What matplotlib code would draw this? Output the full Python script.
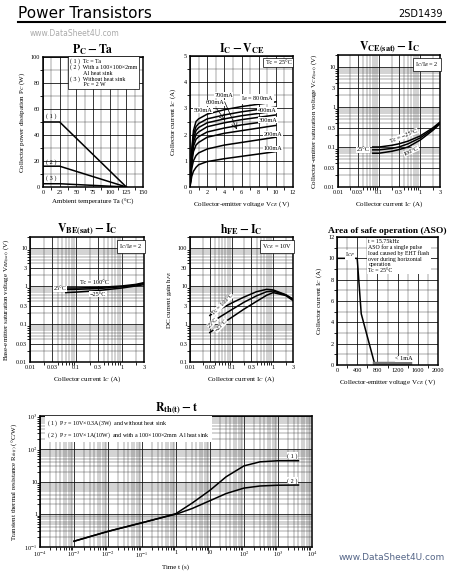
import matplotlib
matplotlib.use("Agg")
import matplotlib.pyplot as plt
from matplotlib.lines import Line2D
from matplotlib.ticker import NullFormatter, LogLocator, MultipleLocator

# ---- data ----
# Pc - Ta
ta = [0, 25, 125]
pc_1 = [50, 50, 0]
pc_2 = [16, 16, 0]
pc_3 = [2.5, 2.5, 0]

# Ic - Vce
vce = [0, 0.1, 0.2, 0.4, 0.7, 1, 2, 4, 6, 8, 10]
ic_100 = [0, 0.2, 0.4, 0.6, 0.75, 0.85, 0.97, 1.08, 1.17, 1.26, 1.35]
ic_200 = [0, 0.35, 0.7, 1.0, 1.2, 1.3, 1.45, 1.6, 1.7, 1.8, 1.9]
ic_300 = [0, 0.45, 0.9, 1.35, 1.6, 1.7, 1.9, 2.05, 2.15, 2.25, 2.35]
ic_400 = [0, 0.5, 1.0, 1.55, 1.82, 1.92, 2.1, 2.25, 2.37, 2.46, 2.55]
ic_500 = [0, 0.55, 1.1, 1.7, 2.0, 2.1, 2.3, 2.45, 2.57, 2.66, 2.75]
ic_600 = [0, 0.6, 1.2, 1.85, 2.15, 2.27, 2.45, 2.6, 2.72, 2.81, 2.9]
ic_700 = [0, 0.65, 1.3, 2.0, 2.3, 2.42, 2.6, 2.75, 2.87, 2.96, 3.05]
ic_800 = [0, 0.7, 1.4, 2.15, 2.5, 2.6, 2.78, 2.95, 3.07, 3.16, 3.25]

# Vce(sat) - Ic
ic_sat = [0.07, 0.1, 0.2, 0.3, 0.5, 1, 2, 3]
vces_m25 = [0.1, 0.1, 0.11, 0.12, 0.14, 0.19, 0.3, 0.42]
vces_25 = [0.085, 0.085, 0.092, 0.1, 0.12, 0.17, 0.28, 0.4]
vces_100 = [0.07, 0.07, 0.078, 0.086, 0.1, 0.15, 0.26, 0.38]

# Vbe(sat) - Ic
ic_vbe = [0.06, 0.1, 0.3, 1, 2, 3]
vbe_100 = [0.9, 0.9, 0.93, 1.02, 1.12, 1.25]
vbe_25 = [0.82, 0.83, 0.87, 0.97, 1.08, 1.18]
vbe_m25 = [0.68, 0.7, 0.77, 0.9, 1.02, 1.1]

# hFE - Ic
ic_hfe = [0.03, 0.05, 0.1, 0.2, 0.4, 0.7, 1, 2, 3]
hfe_100 = [1.7, 2.4, 3.6, 5.2, 7.2, 8.3, 8.0, 6.0, 4.6]
hfe_25 = [1.0, 1.5, 2.4, 3.8, 5.6, 7.2, 7.5, 5.9, 4.5]
hfe_m25 = [0.6, 0.9, 1.5, 2.5, 4.0, 5.8, 6.8, 5.7, 4.2]

# ASO
aso_v = [0, 400, 480, 740]
aso_i = [10, 10, 4.8, 0.2]
leak_v = [740, 1450]
leak_i = [0.2, 0.2]

# Rth - t
t_s = [1e-3, 1e-2, 1e-1, 0.5, 1, 3, 10, 30, 100, 300, 1000, 4000]
rth_1 = [0.15, 0.3, 0.55, 0.85, 1.05, 2.2, 5.4, 14, 30, 40, 43, 43]
rth_2 = [0.15, 0.3, 0.55, 0.85, 1.0, 1.5, 2.6, 4.3, 6.3, 7.3, 7.7, 7.8]

W, H = 458, 571
plt.rcParams['font.family'] = ['Liberation Serif', 'DejaVu Serif']
plt.rcParams['mathtext.fontset'] = 'stix'
fig = plt.figure(figsize=(W / 100, H / 100), dpi=100)

def ax_px(l, t, r, b):
    return fig.add_axes([l / W, (H - b) / H, (r - l) / W, (b - t) / H])

def style(ax, title, xlabel, ylabel, tsize=8.5):
    for s in ax.spines.values():
        s.set_linewidth(1.1)
    ax.tick_params(labelsize=4.5, length=0, pad=2)
    ax.grid(True, which='major', color='black', lw=0.55)
    ax.grid(True, which='minor', color='#333333', lw=0.3)
    ax.set_axisbelow(True)
    ax.set_title(title, fontsize=tsize, fontweight='bold', pad=3)
    ax.set_xlabel(xlabel, fontsize=5, labelpad=3)
    ax.set_ylabel(ylabel, fontsize=5, labelpad=3)

curve = dict(color='black', lw=1.1)
lab_bbox = dict(facecolor='white', edgecolor='none', pad=0.3)

# header
fig.text(18 / W, 1 - 13 / H, "Power Transistors", fontsize=11, family='DejaVu Sans',
         va='center', ha='left')
fig.text(443 / W, 1 - 14 / H, "2SD1439", fontsize=7, family='DejaVu Sans', va='center', ha='right')
fig.add_artist(Line2D([18 / W, 445 / W], [1 - 22 / H, 1 - 22 / H], color='black', lw=1.5))
fig.text(30 / W, 1 - 33 / H, "www.DataSheet4U.com", fontsize=5.5, family='DejaVu Sans',
         color='#aaaaaa', va='center')
fig.text(445 / W, 1 - 557 / H, "www.DataSheet4U.com", fontsize=6.5, family='DejaVu Sans',
         color='#556688', va='center', ha='right')

# ---- Pc - Ta ----
ax = ax_px(43, 57, 143, 187)
ax.plot(ta, pc_1, **curve)
ax.plot(ta, pc_2, **curve)
ax.plot(ta, pc_3, **curve)
ax.set_xlim(0, 150)
ax.set_ylim(0, 100)
ax.set_xticks([0, 25, 50, 75, 100, 125, 150])
ax.set_yticks([0, 20, 40, 60, 80, 100])
ax.xaxis.set_minor_locator(MultipleLocator(12.5))
ax.yaxis.set_minor_locator(MultipleLocator(10))
style(ax, r"$\mathbf{P_C - Ta}$", "Ambient temperature Ta (°C)",
      r"Collector power dissipation P$_C$ (W)")
ax.text(5, 53, "( 1 )", fontsize=4.5)
ax.text(5, 18, "( 2 )", fontsize=4.5)
ax.text(5, 6, "( 3 )", fontsize=4.5)
ax.text(40, 99, "( 1 )  Tc = Ta\n( 2 )  With a 100×100×2mm\n         Al heat sink\n"
        "( 3 )  Without heat sink\n         Pc = 2 W", fontsize=4.3, va='top', linespacing=1.1,
        bbox=dict(facecolor='white', edgecolor='black', lw=0.5, pad=1.5))

# ---- Ic - Vce ----
ax = ax_px(190, 56, 293, 187)
for c in [ic_100, ic_200, ic_300, ic_400, ic_500, ic_600, ic_700, ic_800]:
    ax.plot(vce, c, **curve)
ax.set_xlim(0, 12)
ax.set_ylim(0, 5)
ax.set_xticks(range(0, 13, 2))
ax.set_yticks(range(0, 6))
ax.xaxis.set_minor_locator(MultipleLocator(1))
ax.yaxis.set_minor_locator(MultipleLocator(0.5))
style(ax, r"$\mathbf{I_C - V_{CE}}$", r"Collector-emitter voltage V$_{CE}$ (V)",
      r"Collector current I$_C$ (A)")
ax.text(11.8, 4.85, "Tc = 25°C", fontsize=4.5, ha='right', va='top',
        bbox=dict(facecolor='white', edgecolor='black', lw=0.5, pad=1.5))
lab = dict(fontsize=4.5, bbox=lab_bbox)
ax.text(3.9, 3.45, "700mA", ha='center', **lab)
ax.text(7.8, 3.3, r"I$_B$ = 800mA", ha='center', **lab)
ax.text(2.9, 3.15, "600mA", ha='center', **lab)
ax.text(1.5, 2.88, "500mA", ha='center', **lab)
ax.text(9.0, 2.88, "400mA", ha='center', **lab)
ax.text(9.1, 2.5, "300mA", ha='center', **lab)
ax.text(9.7, 1.95, "200mA", ha='center', **lab)
ax.text(9.7, 1.4, "100mA", ha='center', **lab)
ax.annotate("", xy=(5.6, 2.1), xytext=(3.9, 3.35),
            arrowprops=dict(arrowstyle='->', lw=0.5))
ax.annotate("", xy=(4.3, 2.45), xytext=(2.9, 3.08),
            arrowprops=dict(arrowstyle='->', lw=0.5))

# ---- log-log panels ----
logx_ticks = [0.01, 0.03, 0.1, 0.3, 1, 3]
logx_labels = ["0.01", "0.03", "0.1", "0.3", "1", "3"]

def log_axes(ax, yticks, ylabels):
    ax.set_xscale('log')
    ax.set_yscale('log')
    ax.set_xticks(logx_ticks)
    ax.set_xticklabels(logx_labels)
    ax.set_yticks(yticks)
    ax.set_yticklabels(ylabels)
    ax.xaxis.set_minor_locator(LogLocator(subs=range(2, 10)))
    ax.yaxis.set_minor_locator(LogLocator(subs=range(2, 10)))
    ax.xaxis.set_minor_formatter(NullFormatter())
    ax.yaxis.set_minor_formatter(NullFormatter())

# Vce(sat) - Ic
ax = ax_px(338, 55, 440, 187)
ax.plot(ic_sat, vces_m25, **curve)
ax.plot(ic_sat, vces_25, **curve)
ax.plot(ic_sat, vces_100, **curve)
ax.set_xlim(0.01, 3)
ax.set_ylim(0.01, 20)
log_axes(ax, [0.01, 0.03, 0.1, 0.3, 1, 3, 10], ["0.01", "0.03", "0.1", "0.3", "1", "3", "10"])
style(ax, r"$\mathbf{V_{CE(sat)} - I_C}$", r"Collector current I$_C$ (A)",
      r"Collector-emitter saturation voltage V$_{CE(sat)}$ (V)")
ax.text(2.8, 15, r"I$_C$/I$_B$ = 2", fontsize=4.5, ha='right', va='top',
        bbox=dict(facecolor='white', edgecolor='black', lw=0.5, pad=1.5))
ax.text(0.4, 0.19, "Tc = −25°C", fontsize=4.5, rotation=22, ha='center', va='center', bbox=lab_bbox)
ax.text(0.04, 0.085, "25°C", fontsize=4.5, ha='center', va='center', bbox=lab_bbox)
ax.text(0.6, 0.08, "100°C", fontsize=4.5, rotation=25, ha='center', va='center', bbox=lab_bbox)

# Vbe(sat) - Ic
ax = ax_px(30, 237, 144, 362)
ax.plot(ic_vbe, vbe_100, **curve)
ax.plot(ic_vbe, vbe_25, **curve)
ax.plot(ic_vbe, vbe_m25, **curve)
ax.set_xlim(0.01, 3)
ax.set_ylim(0.01, 20)
log_axes(ax, [0.01, 0.03, 0.1, 0.3, 1, 3, 10], ["0.01", "0.03", "0.1", "0.3", "1", "3", "10"])
style(ax, r"$\mathbf{V_{BE(sat)} - I_C}$", r"Collector current I$_C$ (A)",
      r"Base-emitter saturation voltage V$_{BE(sat)}$ (V)")
ax.text(2.8, 15, r"I$_C$/I$_B$ = 2", fontsize=4.5, ha='right', va='top',
        bbox=dict(facecolor='white', edgecolor='black', lw=0.5, pad=1.5))
ax.text(0.25, 1.05, "Tc = 100°C", fontsize=4.5, ha='center', va='bottom', bbox=lab_bbox)
ax.text(0.045, 0.85, "25°C", fontsize=4.5, ha='center', va='center', bbox=lab_bbox)
ax.text(0.3, 0.62, "−25°C", fontsize=4.5, ha='center', va='center', bbox=lab_bbox)

# hFE - Ic
ax = ax_px(190, 237, 293, 362)
ax.plot(ic_hfe, hfe_100, **curve)
ax.plot(ic_hfe, hfe_25, **curve)
ax.plot(ic_hfe, hfe_m25, **curve)
ax.set_xlim(0.01, 3)
ax.set_ylim(0.1, 200)
log_axes(ax, [0.1, 0.3, 1, 3, 10, 30, 100], ["0.1", "0.3", "1", "3", "10", "30", "100"])
style(ax, r"$\mathbf{h_{FE} - I_C}$", r"Collector current I$_C$ (A)",
      r"DC current gain h$_{FE}$")
ax.text(2.8, 150, r"V$_{CE}$ = 10V", fontsize=4.5, ha='right', va='top',
        bbox=dict(facecolor='white', edgecolor='black', lw=0.5, pad=1.5))
ax.text(0.06, 3.3, "Tc = 100°C", fontsize=4.3, rotation=45, ha='center', va='center', bbox=lab_bbox)
ax.text(0.035, 1.1, "25°C", fontsize=4.3, rotation=45, ha='center', va='center', bbox=lab_bbox)
ax.text(0.055, 0.9, "−25°C", fontsize=4.3, rotation=45, ha='center', va='center', bbox=lab_bbox)

# ---- ASO ----
ax = ax_px(337, 237, 438, 365)
ax.plot(aso_v, aso_i, **curve)
ax.plot(leak_v, leak_i, color='#777777', lw=2.5)
ax.set_xlim(0, 2000)
ax.set_ylim(0, 12)
ax.set_xticks([0, 400, 800, 1200, 1600, 2000])
ax.set_yticks(range(0, 13, 2))
ax.xaxis.set_minor_locator(MultipleLocator(200))
ax.yaxis.set_minor_locator(MultipleLocator(1))
style(ax, "Area of safe operation (ASO)", r"Collector-emitter voltage V$_{CE}$ (V)",
      r"Collector current I$_C$ (A)", tsize=6.8)
ax.text(160, 10.2, r"I$_{CP}$", fontsize=4.5, bbox=lab_bbox)
ax.text(1150, 0.45, "< 1mA", fontsize=4.5, bbox=lab_bbox)
ax.text(620, 11.8, "t = 15.75kHz\nASO for a single pulse\nload caused by EHT flash\n"
        "over during horizontal\noperation\nTc = 25°C", fontsize=4.2, va='top',
        linespacing=1.1, bbox=dict(facecolor='white', edgecolor='none', pad=1))

# ---- Rth - t ----
ax = ax_px(40, 416, 312, 547)
ax.plot(t_s, rth_1, **curve)
ax.plot(t_s, rth_2, **curve)
ax.set_xscale('log')
ax.set_yscale('log')
ax.set_xlim(1e-4, 1e4)
ax.set_ylim(0.1, 1000)
xt = [1e-4, 1e-3, 1e-2, 1e-1, 1, 10, 1e2, 1e3, 1e4]
ax.set_xticks(xt)
ax.set_xticklabels([r"10$^{-4}$", r"10$^{-3}$", r"10$^{-2}$", r"10$^{-1}$", "1", "10",
                    r"10$^{2}$", r"10$^{3}$", r"10$^{4}$"])
ax.set_yticks([0.1, 1, 10, 100, 1000])
ax.set_yticklabels([r"10$^{-1}$", "1", "10", r"10$^{2}$", r"10$^{3}$"])
ax.xaxis.set_minor_locator(LogLocator(subs=range(2, 10)))
ax.yaxis.set_minor_locator(LogLocator(subs=range(2, 10)))
ax.xaxis.set_minor_formatter(NullFormatter())
ax.yaxis.set_minor_formatter(NullFormatter())
style(ax, r"$\mathbf{R_{th(t)} - t}$", "Time t (s)",
      r"Transient thermal resistance R$_{th(t)}$ (°C/W)")
ax.text(2700, 55, "( 1 )", fontsize=4.5, ha='center', bbox=lab_bbox)
ax.text(2700, 9.5, "( 2 )", fontsize=4.5, ha='center', bbox=lab_bbox)
ax.text(1.6e-4, 850, r"( 1 )  P$_T$ = 10V×0.3A(3W)  and without heat sink" "\n"
        r"( 2 )  P$_T$ = 10V×1A(10W)  and with a 100×100×2mm  Al heat sink",
        fontsize=4.3, va='top', linespacing=1.4,
        bbox=dict(facecolor='white', edgecolor='none', pad=1.5))

fig.savefig("out.png", dpi=100)
